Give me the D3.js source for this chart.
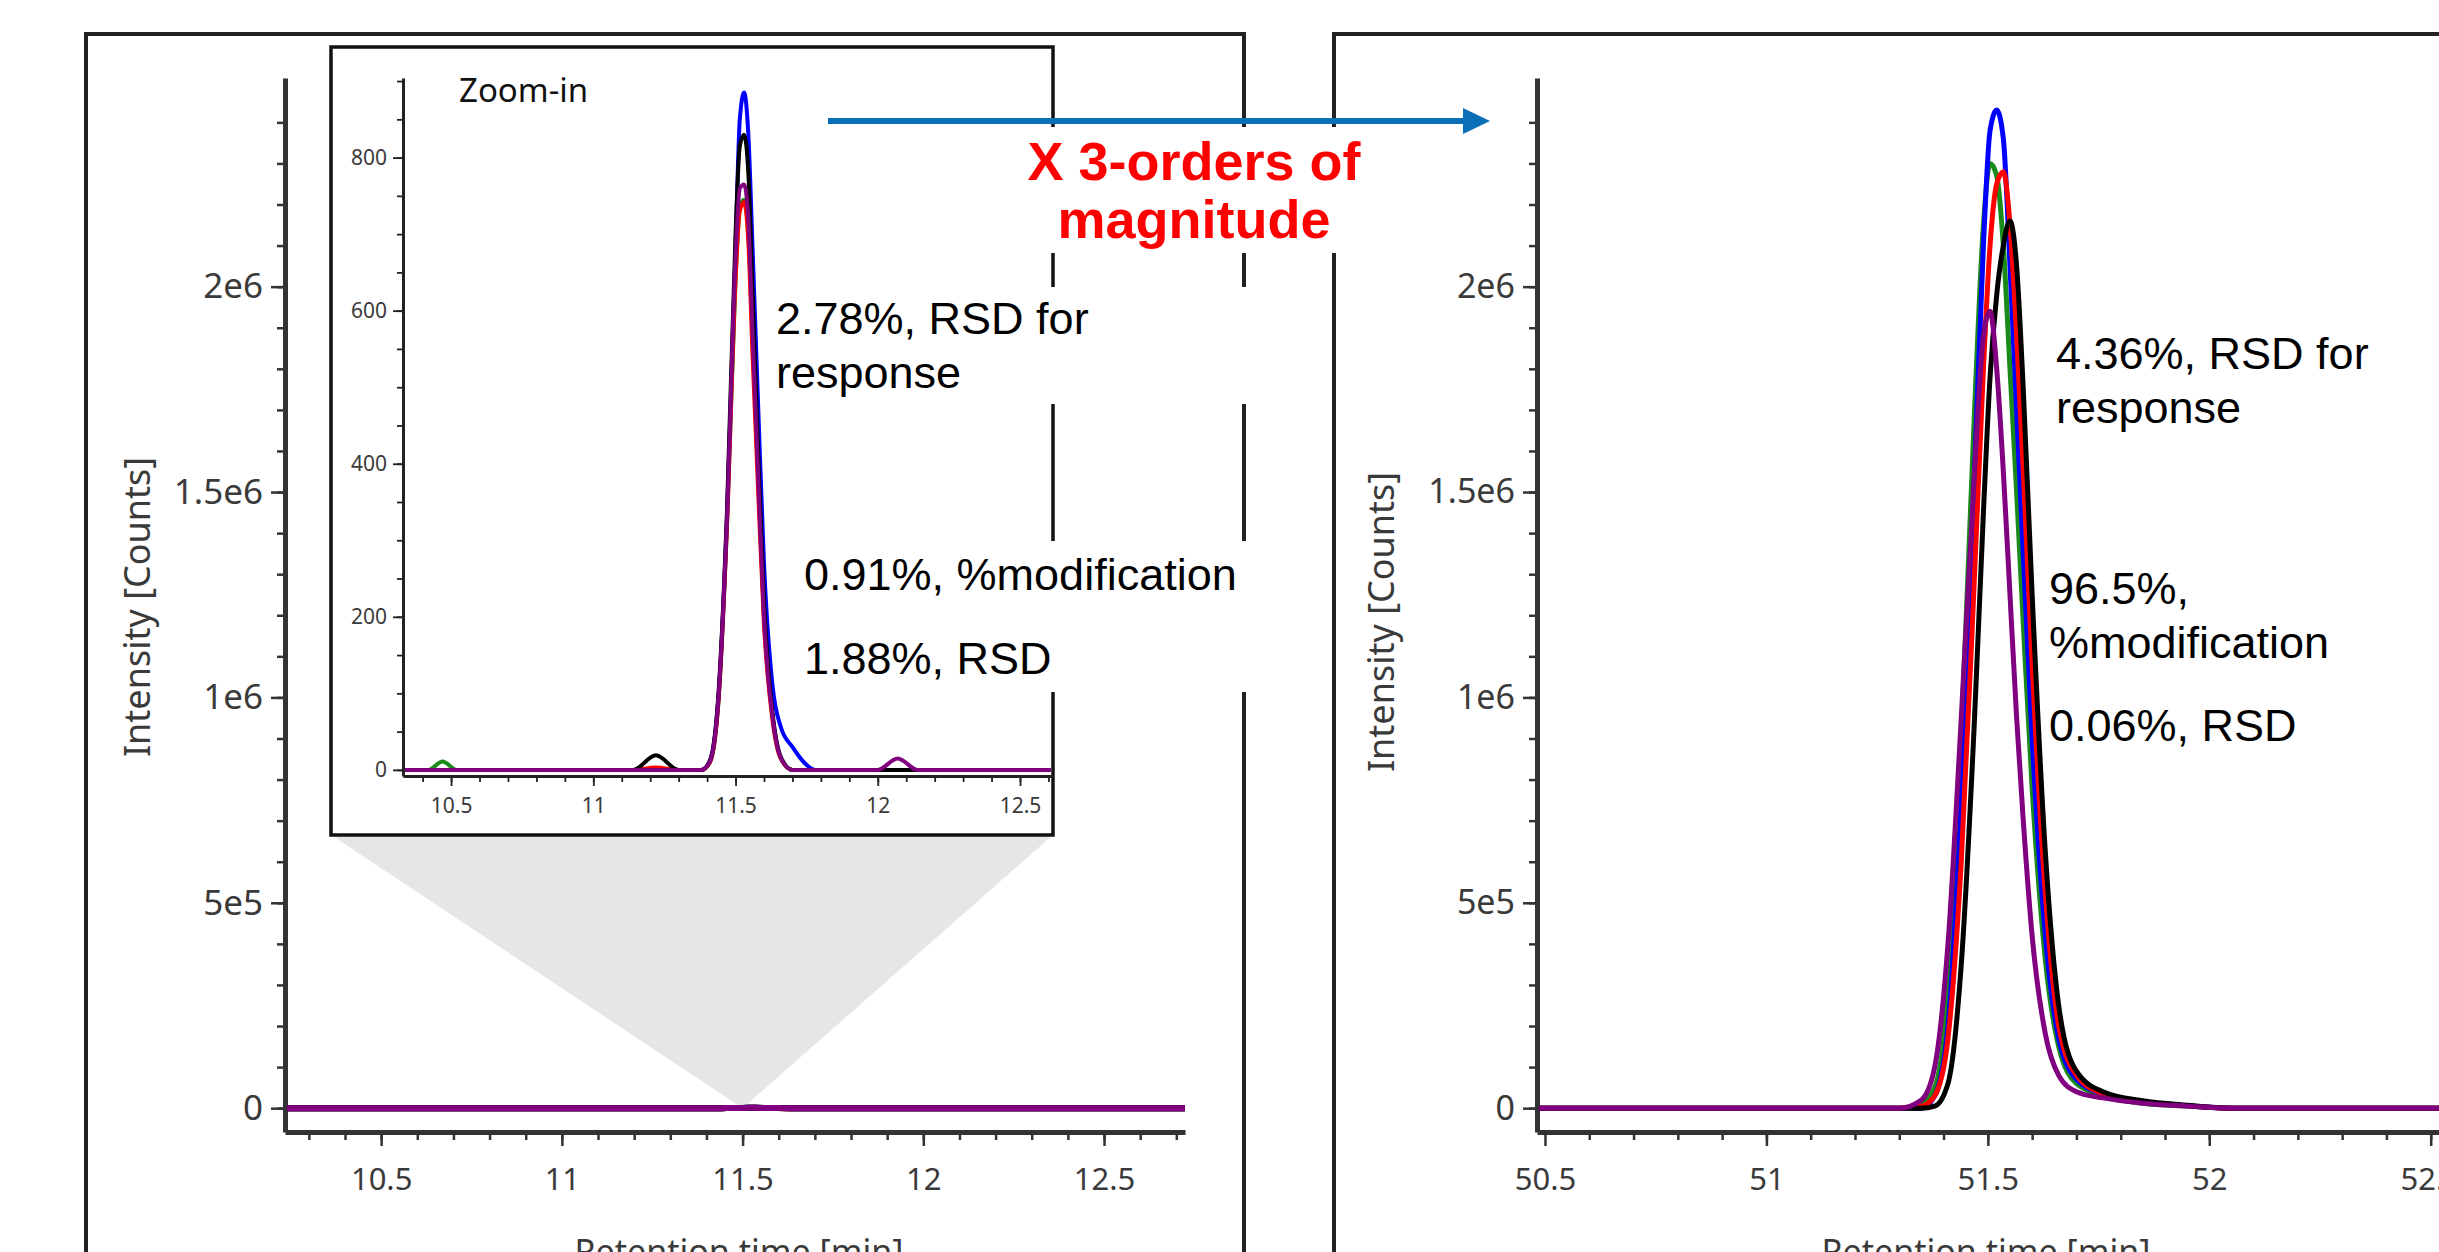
<!DOCTYPE html>
<html>
<head>
<meta charset="utf-8">
<script src="https://cdn.jsdelivr.net/npm/d3@7"></script>
<style>
  html, body { margin: 0; padding: 0; background: #fff; overflow: hidden; }
  svg { display: block; }
</style>
</head>
<body>
<div id="chart"></div>
<script>
// ---- values ----
var seriesNames  = ["green", "blue", "red", "black", "purple"];
var seriesColors = ["#1a8a1a", "#0000ff", "#ff0000", "#000000", "#800080"];

var yTickValues = [0, 5e5, 1e6, 1.5e6, 2e6];
var yTickLabels = ["0", "5e5", "1e6", "1.5e6", "2e6"];
var insetYTickValues = [0, 200, 400, 600, 800];
var insetYTickLabels = ["0", "200", "400", "600", "800"];
var leftXTickValues  = [10.5, 11, 11.5, 12, 12.5];
var leftXTickLabels  = ["10.5", "11", "11.5", "12", "12.5"];
var rightXTickValues = [50.5, 51, 51.5, 52, 52.5];
var rightXTickLabels = ["50.5", "51", "51.5", "52", "52.5"];

// low level run (counts) -- same traces are drawn in the main left axes and in the zoom-in
var lowTime   = [10.23, 10.42, 10.47, 10.52, 11.14, 11.22, 11.30, 11.38, 11.41, 11.44, 11.47, 11.50, 11.515, 11.53, 11.545, 11.56, 11.58, 11.60, 11.63, 11.66, 11.70, 11.74, 11.78, 12.00, 12.07, 12.14, 12.73];
var lowGreen  = [0, 0, 11, 0, 0, 0, 0, 0, 10, 90, 320, 640, 735, 745, 700, 560, 380, 200, 70, 15, 0, 0, 0, 0, 0, 0, 0];
var lowBlue   = [0, 0, 0, 0, 0, 0, 0, 0, 12, 95, 330, 680, 850, 885, 830, 680, 470, 270, 110, 55, 30, 10, 0, 0, 0, 0, 0];
var lowRed    = [0, 0, 0, 0, 0, 3, 0, 0, 10, 90, 320, 640, 730, 742, 690, 540, 360, 190, 65, 14, 0, 0, 0, 0, 0, 0, 0];
var lowBlack  = [0, 0, 0, 0, 0, 19, 0, 0, 12, 100, 340, 700, 815, 830, 780, 620, 410, 220, 75, 16, 0, 0, 0, 0, 0, 0, 0];
var lowPurple = [0, 0, 0, 0, 0, 0, 0, 0, 11, 95, 330, 670, 760, 765, 720, 570, 380, 200, 70, 15, 0, 0, 0, 0, 15, 0, 0];

// high level run (millions of counts)
var highTime   = [50.48, 51.30, 51.35, 51.38, 51.41, 51.44, 51.47, 51.49, 51.505, 51.52, 51.535, 51.55, 51.565, 51.58, 51.60, 51.63, 51.66, 51.70, 51.76, 51.85, 51.95, 52.05, 52.62];
var highGreen  = [0, 0, 0.01, 0.05, 0.28, 0.9, 1.7, 2.15, 2.3, 2.27, 2.1, 1.8, 1.5, 1.18, 0.78, 0.36, 0.15, 0.06, 0.03, 0.012, 0.005, 0, 0];
var highBlue   = [0, 0, 0, 0.03, 0.2, 0.75, 1.55, 2.1, 2.38, 2.43, 2.36, 2.05, 1.7, 1.35, 0.9, 0.42, 0.17, 0.07, 0.035, 0.015, 0.006, 0, 0];
var highRed    = [0, 0, 0.005, 0.03, 0.17, 0.6, 1.3, 1.8, 2.1, 2.25, 2.28, 2.15, 1.88, 1.55, 1.08, 0.52, 0.2, 0.08, 0.035, 0.015, 0.006, 0, 0];
var highBlack  = [0, 0, 0, 0.005, 0.06, 0.35, 0.95, 1.45, 1.78, 1.98, 2.1, 2.16, 2.05, 1.75, 1.25, 0.62, 0.25, 0.09, 0.04, 0.018, 0.007, 0, 0];
var highPurple = [0, 0, 0.02, 0.1, 0.4, 0.95, 1.55, 1.88, 1.94, 1.8, 1.55, 1.25, 0.95, 0.7, 0.42, 0.18, 0.08, 0.04, 0.025, 0.012, 0.005, 0, 0];

var leftNotes  = [["2.78%, RSD for", "response"], ["0.91%, %modification", "1.88%, RSD"]];
var rightNotes = [["4.36%, RSD for", "response"], ["96.5%,", "%modification"], ["0.06%, RSD"]];
var bigNote    = ["X 3-orders of", "magnitude"];

// ---- page ----
var W = 2439, H = 1252;
var TICK_FONT = "'Noto Sans', 'Open Sans', sans-serif";
var NOTE_FONT = "'Liberation Sans', Arial, sans-serif";

var svg = d3.select("#chart").append("svg")
    .attr("width", W)
    .attr("height", H);

var clipId = 0;

function buildSeries(time, lists, mult) {
    return lists.map(function(vals, k) {
        return {
            name: seriesNames[k],
            color: seriesColors[k],
            values: time.map(function(t, i) { return { t: t, v: vals[i] * mult }; })
        };
    });
}

var lowSeries  = buildSeries(lowTime, [lowGreen, lowBlue, lowRed, lowBlack, lowPurple], 1);
var highSeries = buildSeries(highTime, [highGreen, highBlue, highRed, highBlack, highPurple], 1e6);

// draws one set of axes; o holds positions and tick settings
function drawAxes(g, x, y, o) {
    var yMinor = d3.axisLeft(y).tickValues(o.yMinor).tickSize(o.minorLen).tickFormat("");
    var xMinor = d3.axisBottom(x).tickValues(o.xMinor).tickSize(o.minorLen).tickFormat("");

    g.append("g").attr("transform", "translate(" + o.x0 + ",0)").call(yMinor)
        .call(function(s) { s.select(".domain").remove(); });
    g.append("g").attr("transform", "translate(0," + o.y0 + ")").call(xMinor)
        .call(function(s) { s.select(".domain").remove(); });

    var yAxis = d3.axisLeft(y).tickValues(o.yTicks).tickSize(o.majorLen).tickSizeOuter(0)
        .tickPadding(o.yPad).tickFormat(function(d, i) { return o.yLabels[i]; });
    var xAxis = d3.axisBottom(x).tickValues(o.xTicks).tickSize(o.majorLen).tickSizeOuter(0)
        .tickPadding(o.xPad).tickFormat(function(d, i) { return o.xLabels[i]; });

    var ya = g.append("g").attr("transform", "translate(" + o.x0 + ",0)").call(yAxis);
    var xa = g.append("g").attr("transform", "translate(0," + o.y0 + ")").call(xAxis);

    g.selectAll(".tick line").attr("stroke", o.color).attr("stroke-width", o.tickWidth);
    g.selectAll(".domain").attr("stroke", o.color).attr("stroke-width", o.axisWidth);
    g.selectAll(".tick text")
        .attr("font-family", TICK_FONT)
        .attr("fill", "#3a3a3a");
    ya.selectAll(".tick text").attr("font-size", o.yFont);
    xa.selectAll(".tick text").attr("font-size", o.xFont);
}

function drawTraces(g, x, y, series, width, clip) {
    var line = d3.line()
        .x(function(d) { return x(d.t); })
        .y(function(d) { return y(d.v); })
        .curve(d3.curveMonotoneX);

    var id = "clip" + (clipId++);
    g.append("clipPath").attr("id", id).append("rect")
        .attr("x", clip[0]).attr("y", clip[1]).attr("width", clip[2]).attr("height", clip[3]);

    g.append("g").attr("clip-path", "url(#" + id + ")")
        .selectAll("path")
        .data(series)
        .enter()
        .append("path")
        .attr("d", function(d) { return line(d.values); })
        .attr("fill", "none")
        .attr("stroke", function(d) { return d.color; })
        .attr("stroke-width", width)
        .attr("stroke-linejoin", "round");
}

// multi-line text with a white box behind it (the boxes hide the frame lines)
function note(g, lines, x, y0, lh, opts) {
    var grp = g.append("g");
    var bg = grp.append("rect").attr("fill", "#fff");
    var t = grp.append("text")
        .attr("font-family", opts.font || NOTE_FONT)
        .attr("font-size", opts.size)
        .attr("font-weight", opts.weight || "normal")
        .attr("fill", opts.fill || "#000")
        .attr("text-anchor", opts.anchor || "start");
    lines.forEach(function(s, i) {
        t.append("tspan").attr("x", x).attr("y", y0 + i * lh).text(s);
    });
    if (opts.box) {
        var b = t.node().getBBox();
        var x0 = b.x - opts.box[0];
        var x1 = opts.boxRight || (b.x + b.width + opts.box[0]);
        bg.attr("x", x0).attr("y", b.y - opts.box[1])
          .attr("width", x1 - x0).attr("height", b.height + 2 * opts.box[1]);
    } else {
        bg.remove();
    }
    return grp;
}

function axisTitles(g, yx, yy, xx) {
    g.append("text")
        .attr("transform", "translate(" + yx + "," + yy + ") rotate(-90)")
        .attr("text-anchor", "middle")
        .attr("font-family", TICK_FONT).attr("font-size", 36).attr("fill", "#3a3a3a")
        .text("Intensity [Counts]");
    g.append("text")
        .attr("x", xx).attr("y", 1264)
        .attr("text-anchor", "middle")
        .attr("font-family", TICK_FONT).attr("font-size", 34).attr("fill", "#3a3a3a")
        .text("Retention time [min]");
}

// ---- panel frames ----
svg.append("rect")
    .attr("x", 86).attr("y", 34).attr("width", 1158).attr("height", 1300)
    .attr("fill", "#fff").attr("stroke", "#222").attr("stroke-width", 4);
svg.append("rect")
    .attr("x", 1334).attr("y", 34).attr("width", 1300).attr("height", 1300)
    .attr("fill", "#fff").attr("stroke", "#222").attr("stroke-width", 4);

// ---- left panel, main axes ----
var left = svg.append("g");
var xL = d3.scaleLinear().domain([10.234, 12.724]).range([285, 1185]);
var yL = d3.scaleLinear().domain([-0.058e6, 2.508e6]).range([1132, 78]);

var axisOpts = {
    yMinor: d3.range(0, 2.45e6, 1e5), majorLen: 14, minorLen: 8,
    yTicks: yTickValues, yLabels: yTickLabels, yPad: 8, xPad: 22,
    color: "#333", tickWidth: 2.5, axisWidth: 5, yFont: 35, xFont: 31
};

drawAxes(left, xL, yL, Object.assign({}, axisOpts, {
    x0: 285, y0: 1132,
    xMinor: d3.range(10.3, 12.75, 0.1),
    xTicks: leftXTickValues, xLabels: leftXTickLabels
}));
axisTitles(left, 150, 607, 739);

// ---- inset (zoom-in) geometry ----
var inset = { x: 331, y: 47, w: 722, h: 788 };
var xI = d3.scaleLinear().domain([10.331, 12.616]).range([403, 1053]);
var yI = d3.scaleLinear().domain([-8, 904]).range([776, 78]);

// grey wedge from the inset down to 11.5 min on the baseline
left.append("path")
    .attr("d", d3.line()([
        [inset.x, inset.y + inset.h],
        [inset.x + inset.w, inset.y + inset.h],
        [xL(11.5), yL(0)]
    ]) + "Z")
    .attr("fill", "#e6e6e6");

drawTraces(left, xL, yL, lowSeries, 6, [287, 60, 898, 1068]);

// inset box
var ins = svg.append("g");
ins.append("rect")
    .attr("x", inset.x).attr("y", inset.y).attr("width", inset.w).attr("height", inset.h)
    .attr("fill", "#fff").attr("stroke", "#111").attr("stroke-width", 3.5);

drawAxes(ins, xI, yI, {
    x0: 403, y0: 776,
    yMinor: d3.range(0, 904, 50), xMinor: d3.range(10.4, 12.62, 0.1),
    majorLen: 10, minorLen: 6,
    yTicks: insetYTickValues, yLabels: insetYTickLabels, yPad: 6,
    xTicks: leftXTickValues, xLabels: leftXTickLabels, xPad: 12,
    color: "#222", tickWidth: 1.8, axisWidth: 3, yFont: 21, xFont: 21
});

drawTraces(ins, xI, yI, lowSeries, 4, [405, 50, 646, 724]);

ins.append("text")
    .attr("x", 459).attr("y", 102)
    .attr("font-family", TICK_FONT).attr("font-size", 33).attr("fill", "#111")
    .text("Zoom-in");

// ---- right panel ----
var right = svg.append("g");
var xR = d3.scaleLinear().domain([50.482, 52.6]).range([1537, 2475]);
var yR = d3.scaleLinear().domain([-0.058e6, 2.508e6]).range([1132, 78]);

drawAxes(right, xR, yR, Object.assign({}, axisOpts, {
    x0: 1537, y0: 1132,
    xMinor: d3.range(50.6, 52.6, 0.1),
    xTicks: rightXTickValues, xLabels: rightXTickLabels,
    yFont: 34
}));
axisTitles(right, 1394, 622, 1986);

drawTraces(right, xR, yR, highSeries, 5, [1539, 60, 1000, 1068]);

// ---- annotations ----
var notes = svg.append("g");
note(notes, leftNotes[0], 776, 334, 54, { size: 45, box: [8, 6], boxRight: 1256 });
note(notes, leftNotes[1], 804, 590, 84, { size: 45, box: [4, 8], boxRight: 1256 });
note(notes, rightNotes[0], 2056, 369, 54, { size: 45 });
note(notes, rightNotes[1], 2049, 604, 54, { size: 45 });
note(notes, rightNotes[2], 2049, 741, 54, { size: 45 });

// arrow from the zoom-in to the right panel
var arrowY = 121;
notes.append("line")
    .attr("x1", 828).attr("x2", 1468).attr("y1", arrowY).attr("y2", arrowY)
    .attr("stroke", "#0b6fb8").attr("stroke-width", 6);
notes.append("path")
    .attr("d", d3.line()([[1463, arrowY - 13], [1490, arrowY], [1463, arrowY + 13]]) + "Z")
    .attr("fill", "#0b6fb8");

note(notes, bigNote, 1194, 180, 58, {
    size: 54, weight: "bold", fill: "#ff0000", anchor: "middle", box: [10, 4]
});
</script>
</body>
</html>
